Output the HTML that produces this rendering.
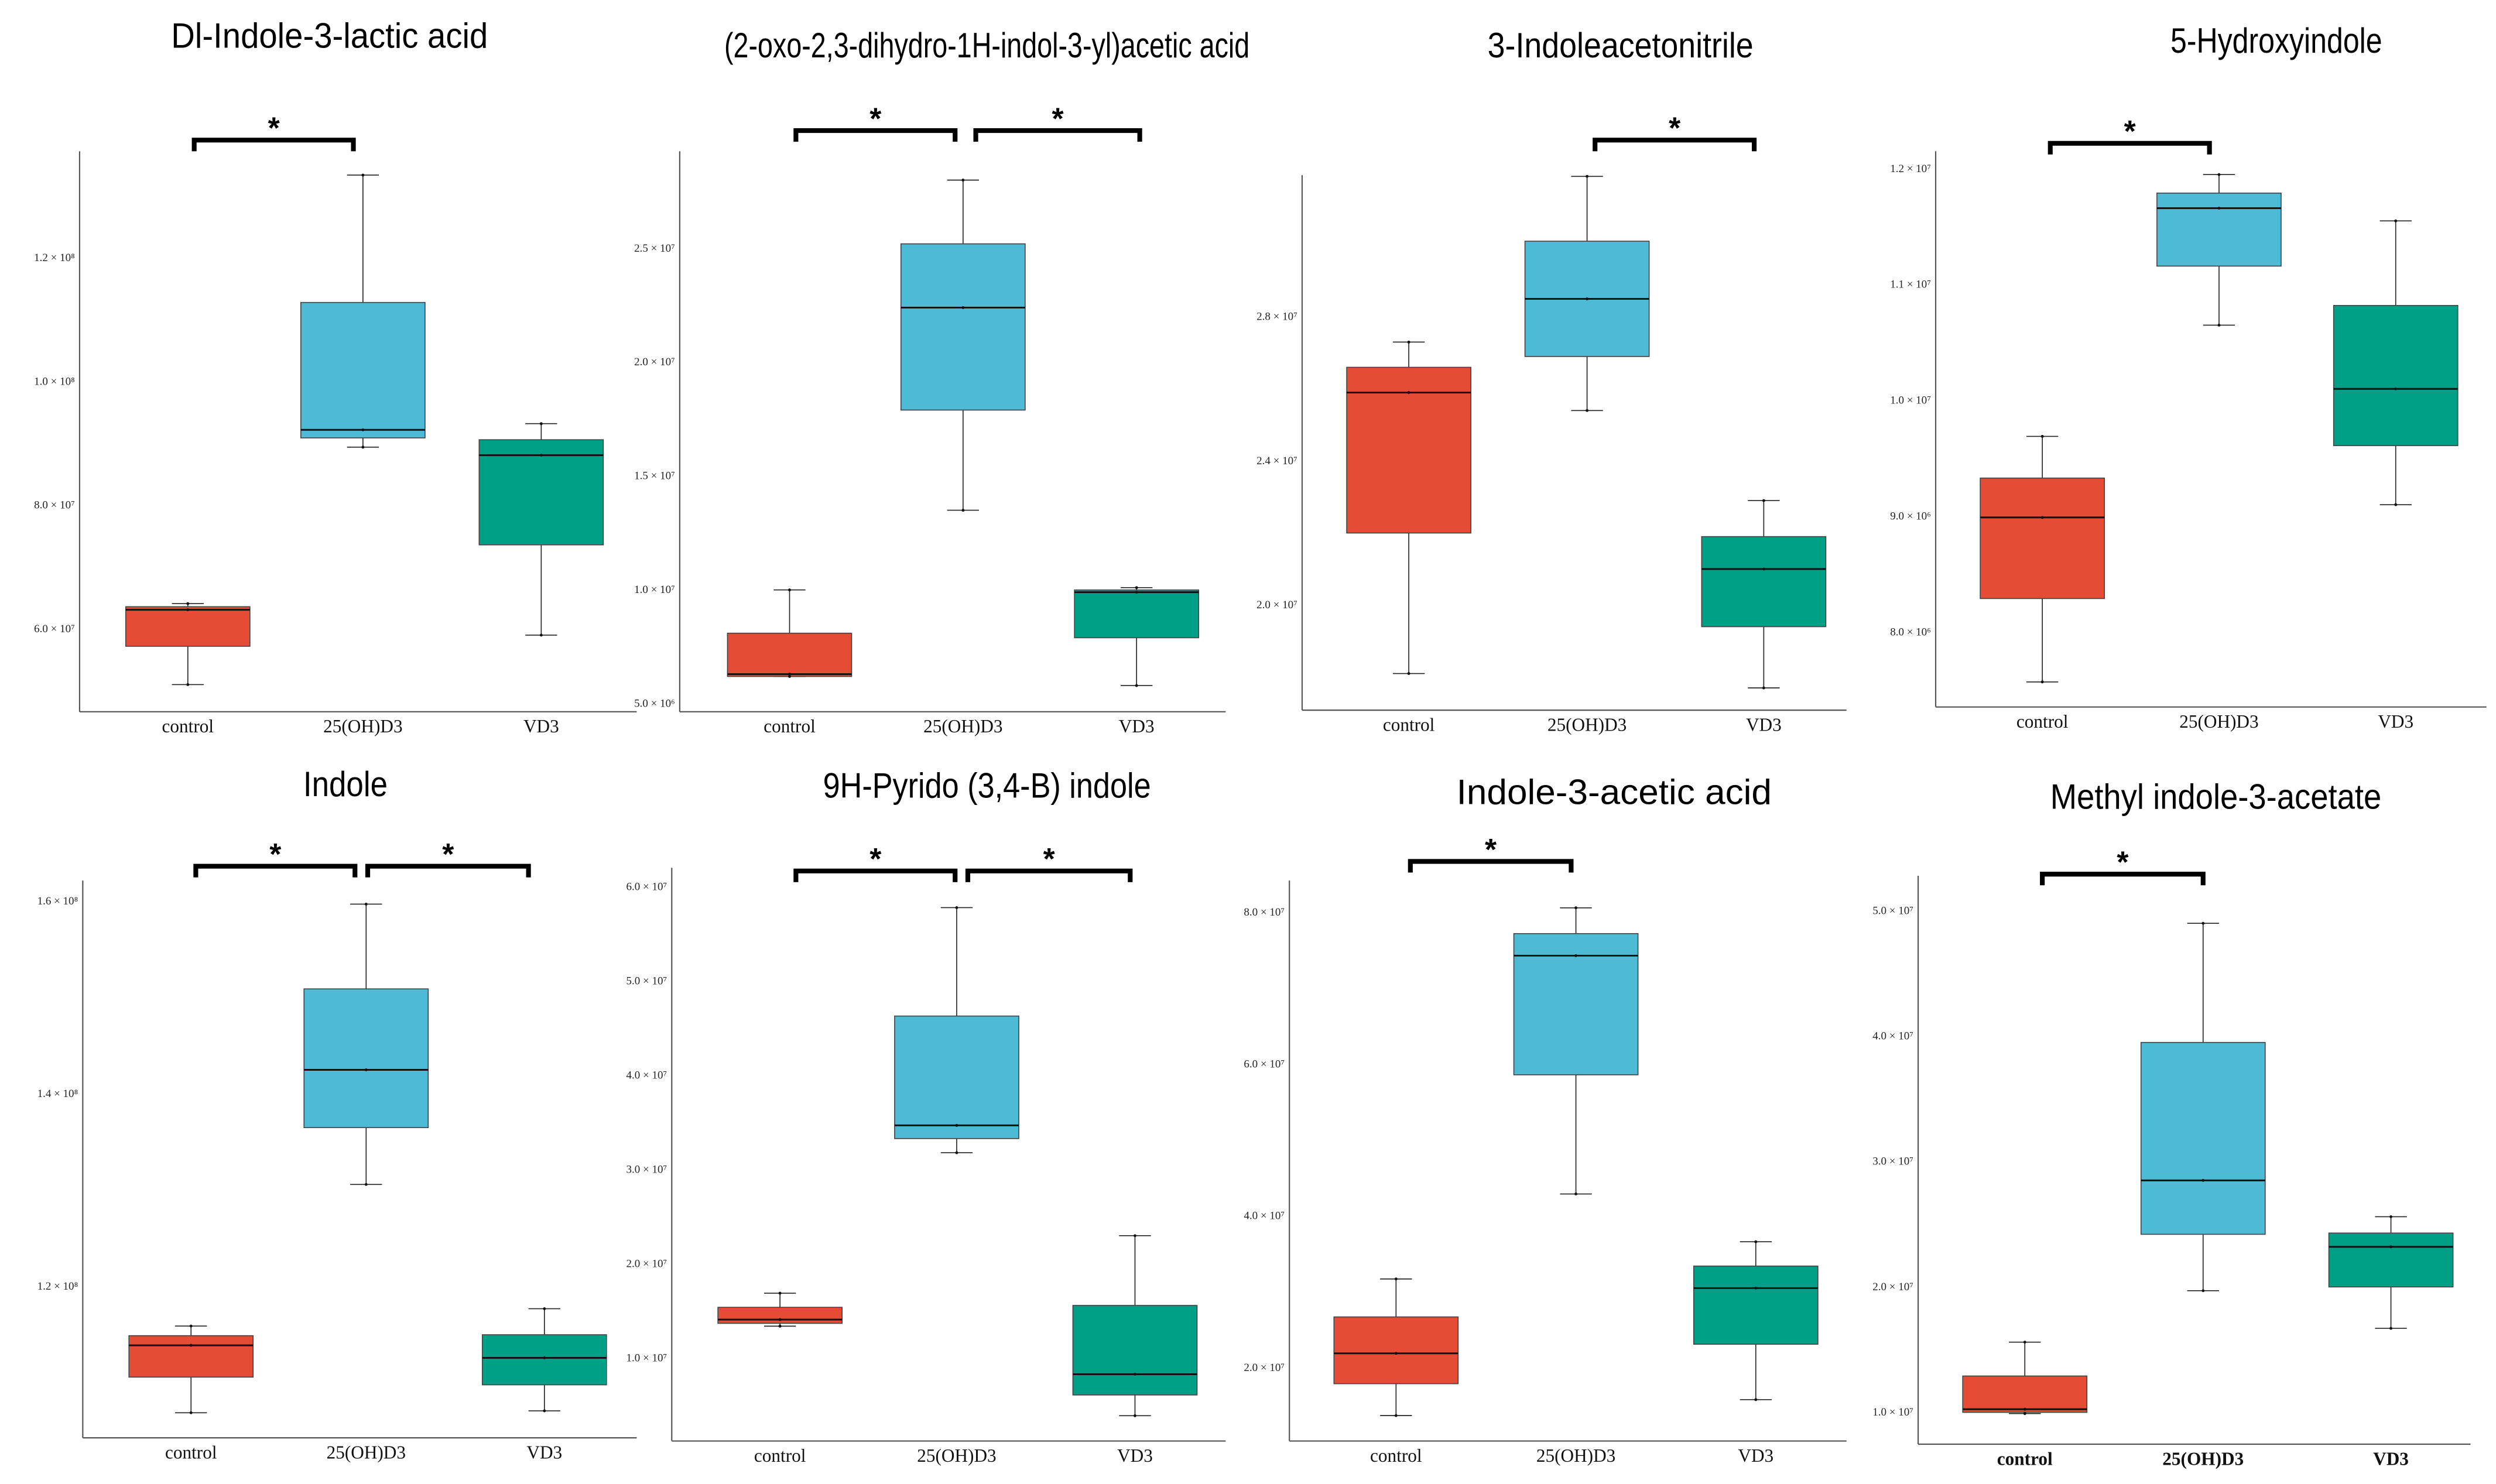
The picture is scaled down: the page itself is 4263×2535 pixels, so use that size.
<!DOCTYPE html>
<html><head><meta charset="utf-8"><style>
html,body{margin:0;padding:0;background:#fff;}
svg{display:block;}
.tk{font-family:"Liberation Serif",serif;font-size:7px;fill:#222;}
.cat{font-family:"Liberation Serif",serif;font-size:11.5px;fill:#111;}
.ttl{font-family:"Liberation Sans",sans-serif;font-size:22px;fill:#000;}
</style></head><body>
<svg id="fig" width="4263" height="2535" viewBox="0 0 1568 932" preserveAspectRatio="none" xmlns="http://www.w3.org/2000/svg"></svg>
<script>
// data: each group's stats [low whisker, q1, median, q3, high whisker]
const categories = ["control", "25(OH)D3", "VD3"];
const titles = ["Dl-Indole-3-lactic acid", "(2-oxo-2,3-dihydro-1H-indol-3-yl)acetic acid", "3-Indoleacetonitrile", "5-Hydroxyindole", "Indole", "9H-Pyrido (3,4-B) indole", "Indole-3-acetic acid", "Methyl indole-3-acetate"];
const lacticStats = [[5.10e7,5.72e7,6.31e7,6.36e7,6.41e7],[8.94e7,9.09e7,9.22e7,11.28e7,13.34e7],[5.90e7,7.36e7,8.81e7,9.06e7,9.32e7]];
const oxoStats = [[6.2e6,6.2e6,6.3e6,8.1e6,10.0e6],[13.5e6,17.9e6,22.4e6,25.2e6,28.0e6],[5.8e6,7.9e6,9.9e6,10.0e6,10.1e6]];
const nitrileStats = [[18.1e6,22.0e6,25.9e6,26.6e6,27.3e6],[25.4e6,26.9e6,28.5e6,30.1e6,31.9e6],[17.7e6,19.4e6,21.0e6,21.9e6,22.9e6]];
const hydroxyStats = [[7.57e6,8.29e6,8.99e6,9.33e6,9.69e6],[10.65e6,11.16e6,11.66e6,11.79e6,11.95e6],[9.10e6,9.61e6,10.10e6,10.82e6,11.55e6]];
const indoleStats = [[10.69e7,11.06e7,11.39e7,11.49e7,11.59e7],[13.06e7,13.65e7,14.25e7,15.09e7,15.97e7],[10.71e7,10.98e7,11.26e7,11.50e7,11.77e7]];
const pyridoStats = [[13.4e6,13.7e6,14.1e6,15.4e6,16.9e6],[31.8e6,33.3e6,34.7e6,46.3e6,57.8e6],[3.9e6,6.1e6,8.3e6,15.6e6,23.0e6]];
const iaaStats = [[13.7e6,17.9e6,21.9e6,26.7e6,31.7e6],[42.9e6,58.6e6,74.3e6,77.2e6,80.6e6],[15.8e6,23.1e6,30.5e6,33.4e6,36.6e6]];
const methylStats = [[9.9e6,10.0e6,10.25e6,12.9e6,15.6e6],[19.7e6,24.2e6,28.5e6,39.5e6,49.0e6],[16.7e6,20.0e6,23.2e6,24.3e6,25.6e6]];
// tick values and labels
const lacticTicks = [6e7,8e7,1e8,1.2e8];
const lacticTickLabels = ["6.0 × 10⁷","8.0 × 10⁷","1.0 × 10⁸","1.2 × 10⁸"];
const oxoTicks = [5e6,1e7,1.5e7,2e7,2.5e7];
const oxoTickLabels = ["5.0 × 10⁶","1.0 × 10⁷","1.5 × 10⁷","2.0 × 10⁷","2.5 × 10⁷"];
const nitrileTicks = [2e7,2.4e7,2.8e7];
const nitrileTickLabels = ["2.0 × 10⁷","2.4 × 10⁷","2.8 × 10⁷"];
const hydroxyTicks = [8e6,9e6,1e7,1.1e7,1.2e7];
const hydroxyTickLabels = ["8.0 × 10⁶","9.0 × 10⁶","1.0 × 10⁷","1.1 × 10⁷","1.2 × 10⁷"];
const indoleTicks = [1.2e8,1.4e8,1.6e8];
const indoleTickLabels = ["1.2 × 10⁸","1.4 × 10⁸","1.6 × 10⁸"];
const pyridoTicks = [1e7,2e7,3e7,4e7,5e7,6e7];
const pyridoTickLabels = ["1.0 × 10⁷","2.0 × 10⁷","3.0 × 10⁷","4.0 × 10⁷","5.0 × 10⁷","6.0 × 10⁷"];
const iaaTicks = [2e7,4e7,6e7,8e7];
const iaaTickLabels = ["2.0 × 10⁷","4.0 × 10⁷","6.0 × 10⁷","8.0 × 10⁷"];
const methylTicks = [1e7,2e7,3e7,4e7,5e7];
const methylTickLabels = ["1.0 × 10⁷","2.0 × 10⁷","3.0 × 10⁷","4.0 × 10⁷","5.0 × 10⁷"];

const colors = ["#E64B35","#4DBBD5","#00A087"];
const NS = "http://www.w3.org/2000/svg";
const svg = document.getElementById("fig");
function mk(tag, attrs, parent){const e=document.createElementNS(NS,tag);for(const k in attrs)e.setAttribute(k,attrs[k]);(parent||svg).appendChild(e);return e;}

const layouts = [
 {stats:lacticStats,ticks:lacticTicks,labels:lacticTickLabels,ax:50,top:95,bot:447,xe:400,cx:[118,228,340],a:[6e7,395,1.2e8,162],tx:207,ty:30,tw:199,br:[[122,222,88]],bold:false},
 {stats:oxoStats,ticks:oxoTicks,labels:oxoTickLabels,ax:427,top:95,bot:447,xe:770,cx:[496,605,714],a:[5e6,442,2.5e7,156],tx:620,ty:36,tw:330,br:[[500,600,82],[613,716,82]],bold:false},
 {stats:nitrileStats,ticks:nitrileTicks,labels:nitrileTickLabels,ax:818,top:110,bot:446,xe:1160,cx:[885,997,1108],a:[2e7,380,2.8e7,199],tx:1018,ty:36,tw:167,br:[[1002,1102,88]],bold:false},
 {stats:hydroxyStats,ticks:hydroxyTicks,labels:hydroxyTickLabels,ax:1216,top:95,bot:444,xe:1562,cx:[1283,1394,1505],a:[8e6,397,1.2e7,106],tx:1430,ty:33,tw:133,br:[[1288,1388,90]],bold:false},
 {stats:indoleStats,ticks:indoleTicks,labels:indoleTickLabels,ax:52,top:553,bot:903,xe:400,cx:[120,230,342],a:[1.2e8,808,1.6e8,566],tx:217,ty:500,tw:53,br:[[123,223,544],[231,332,544]],bold:false},
 {stats:pyridoStats,ticks:pyridoTicks,labels:pyridoTickLabels,ax:422,top:545,bot:905,xe:770,cx:[490,601,713],a:[1e7,853,6e7,557],tx:620,ty:501,tw:206,br:[[500,600,547],[608,710,547]],bold:false},
 {stats:iaaStats,ticks:iaaTicks,labels:iaaTickLabels,ax:810,top:553,bot:905,xe:1160,cx:[877,990,1103],a:[2e7,859,8e7,573],tx:1014,ty:505,tw:198,br:[[886,987,541]],bold:false},
 {stats:methylStats,ticks:methylTicks,labels:methylTickLabels,ax:1205,top:550,bot:907,xe:1552,cx:[1272,1384,1502],a:[1e7,887,5e7,572],tx:1392,ty:508,tw:208,br:[[1283,1384,549]],bold:true}
];

layouts.forEach((L, pi) => {
  const g = mk("g", {});
  
  
  const y = v => L.a[1] + (v - L.a[0]) * (L.a[3] - L.a[1]) / (L.a[2] - L.a[0]);
  const t = mk("text", {x:L.tx, y:L.ty, "text-anchor":"middle", class:"ttl", textLength:L.tw, lengthAdjust:"spacingAndGlyphs"}, g);
  t.textContent = titles[pi];
  
  
  const ya = mk("line", {x1:L.ax, y1:L.top, x2:L.ax, y2:L.bot, stroke:"#555", "stroke-width":0.8}, g);
  
  
  const xa = mk("line", {x1:L.ax, y1:L.bot, x2:L.xe, y2:L.bot, stroke:"#555", "stroke-width":0.8}, g);
  
  
  L.ticks.forEach((tv, i) => {
    const tl = mk("text", {x:L.ax - 3, y:y(tv) + 2, "text-anchor":"end", class:"tk"}, g);
    tl.textContent = L.labels[i];
    
    
  });
  categories.forEach((c, i) => {
    const cl = mk("text", {x:L.cx[i], y:L.bot + 13, "text-anchor":"middle", class:"cat"}, g);
    if (L.bold) cl.setAttribute("font-weight", "bold");
    cl.textContent = c;
    
    
    const s = L.stats[i], cx = L.cx[i], hw = 39, cw = 10;
    const bg = mk("g", {}, g);
    
    
    mk("line", {x1:cx, y1:y(s[0]), x2:cx, y2:y(s[4]), stroke:"#222", "stroke-width":0.6}, bg);
    mk("line", {x1:cx-cw, y1:y(s[0]), x2:cx+cw, y2:y(s[0]), stroke:"#222", "stroke-width":0.6}, bg);
    mk("line", {x1:cx-cw, y1:y(s[4]), x2:cx+cw, y2:y(s[4]), stroke:"#222", "stroke-width":0.6}, bg);
    mk("rect", {x:cx-hw, y:y(s[3]), width:2*hw, height:Math.max(1, y(s[1]) - y(s[3])), fill:colors[i], stroke:"#444", "stroke-width":0.6}, bg);
    mk("line", {x1:cx-hw, y1:y(s[2]), x2:cx+hw, y2:y(s[2]), stroke:"#111", "stroke-width":1.1}, bg);
    [0,2,4].forEach(k => mk("circle", {cx:cx, cy:y(s[k]), r:0.9, fill:"#111"}, bg));
  });
  L.br.forEach(b => {
    const p = mk("path", {d:`M${b[0]},${b[2]+7} V${b[2]} H${b[1]} V${b[2]+7}`, fill:"none", stroke:"#000", "stroke-width":3}, g);
    
    
    const st = mk("text", {x:(b[0]+b[1])/2, y:b[2]-1, "text-anchor":"middle", style:"font-family:'Liberation Sans',sans-serif;font-size:19px;font-weight:bold;"}, g);
    st.textContent = "*";
    
    
  });
});
</script>
</body></html>
